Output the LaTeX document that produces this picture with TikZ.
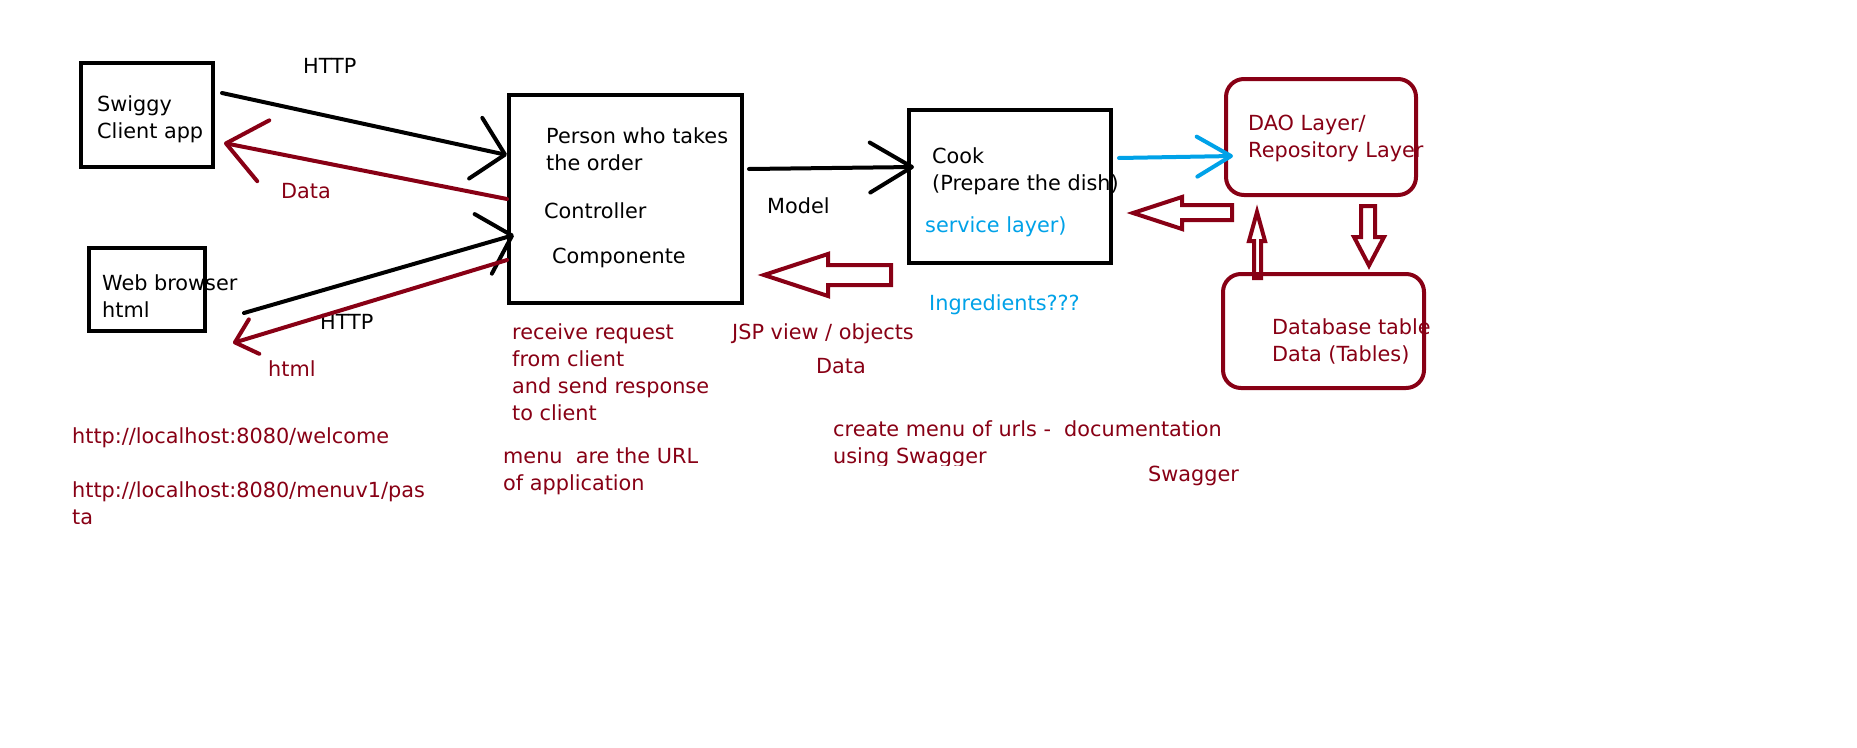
\documentclass[tikz,border=0pt]{standalone}
\usepackage{fontspec}
\setmainfont{DejaVu Sans}
\usepackage{tikz}
\usetikzlibrary{arrows.meta}

\definecolor{paintred}{RGB}{136,0,21}
\definecolor{paintblue}{RGB}{0,162,232}

\begin{document}
\begin{tikzpicture}[x=1pt, y=-1pt, >={Straight Barb[length=30pt, width=62pt, round]},
    box/.style={draw, line width=4pt, inner sep=0pt},
    rbox/.style={box, draw=paintred, rounded corners=18pt},
    txt/.style={anchor=north west, inner sep=0pt, align=left, font=\fontsize{20.8}{27}\selectfont},
    redtxt/.style={txt, text=paintred},
    bluetxt/.style={txt, text=paintblue},
    link/.style={line width=4pt, line cap=round},
    fat/.style={draw=paintred, line width=4pt, line join=miter}]
    \fill[white] (0,0) rectangle (1857,747);
    \useasboundingbox (0,0) rectangle (1857,747);

    \node[box, minimum width=132pt, minimum height=104pt] (swiggy) at (147,115) {};
    \node[box, minimum width=116pt, minimum height=83pt] (web) at (147,289.5) {};
    \node[box, minimum width=233pt, minimum height=208pt] (ctrl) at (625.5,199) {};
    \node[box, minimum width=202pt, minimum height=153pt] (cook) at (1010,186.5) {};
    \node[rbox, minimum width=190pt, minimum height=116pt] (dao) at (1321,137) {};
    \node[rbox, minimum width=201pt, minimum height=114pt] (db) at (1323.5,331) {};

    \node[txt] (swiggytxt) at (97,95.5) {Swiggy\\Client app};
    \node[txt] (webtxt) at (102,274.5) {Web browser\\html};
    \node[txt] (persontxt) at (546,127.5) {Person who takes\\the order};
    \node[txt] (ctrltxt) at (544,202.5) {Controller};
    \node[txt] (comptxt) at (552,247.5) {Componente};
    \node[txt] (cooktxt) at (932,147.5) {Cook\\(Prepare the dish)};
    \node[bluetxt] (servtxt) at (925,216.5) {service layer)};
    \node[redtxt] (daotxt) at (1248,114.5) {DAO Layer/\\Repository Layer};
    \node[redtxt] (dbtxt) at (1272,318.5) {Database table\\Data (Tables)};

    \node[txt] (httpa) at (303,58.5) {HTTP};
    \node[txt] (httpb) at (320,314.5) {HTTP};
    \node[redtxt] (dataa) at (281,183.5) {Data};
    \node[redtxt] (htmlb) at (268,360.5) {html};
    \node[txt] (model) at (767,197.5) {Model};
    \node[bluetxt] (ingr) at (929,294.5) {Ingredients???};
    \node[redtxt] (jsp) at (732,323.5) {JSP view / objects};
    \node[redtxt] (datab) at (816,358.5) {Data};
    \node[redtxt] (recv) at (512,323.5) {receive request\\from client\\and send response\\to client};
    \node[redtxt] (menu) at (503,447.5) {menu\ \ are the URL\\of application};
    \node[redtxt] (urla) at (72,427.5) {http://localhost:8080/welcome};
    \node[redtxt] (urlb) at (72,481.5) {http://localhost:8080/menuv1/pas\\ta};
    \begin{scope}
        \clip (820,400) rectangle (1240,465);
        \node[redtxt] (create) at (833,420.5) {create menu of urls -\ \ documentation\\using Swagger};
    \end{scope}
    \node[redtxt] (swagger) at (1148,465.5) {Swagger};

    \draw[link, ->] ([shift={(7,-22)}]swiggy.east) -- ([shift={(0,-44)}]ctrl.west);
    \draw[link, draw=paintred, -{Straight Barb[length=38pt, width=62pt, round]}] (ctrl.west) -- ([shift={(9,28)}]swiggy.east);
    \draw[link, ->] ([shift={(37,23.5)}]web.east) -- ([shift={(7,36)}]ctrl.west);
    \draw[link, draw=paintred, -{Straight Barb[length=20pt, width=36pt, round]}] ([shift={(0,61)}]ctrl.west) -- ([shift={(26,53.5)}]web.east);
    \draw[link, -{Straight Barb[length=42pt, width=50pt, round]}] ([shift={(5,-30)}]ctrl.east) -- ([shift={(7,-19.5)}]cook.west);
    \draw[link, draw=paintblue, -{Straight Barb[length=34pt, width=40pt, round]}] ([shift={(6,-28.5)}]cook.east) -- ([shift={(9,19)}]dao.west);

    \draw[fat] ([shift={(-16,78.5)}]cook.west) -- ++(-63,0) -- ++(0,-11) -- ++(-64,21) -- ++(64,21) -- ++(0,-11) -- ++(63,0) -- cycle;
    \draw[fat] ([shift={(8,68)}]dao.west) -- ++(-50,0) -- ++(0,-8) -- ++(-49,16) -- ++(49,16) -- ++(0,-9) -- ++(50,0) -- cycle;
    \draw[fat] ([shift={(-69.5,6)}]db.north) -- ++(0,-37) -- ++(-5,0) -- ++(8,-29) -- ++(8,29) -- ++(-4,0) -- ++(0,37) -- cycle;
    \draw[fat] ([shift={(40,9)}]dao.south) -- ++(14,0) -- ++(0,31) -- ++(9,0) -- ++(-15,28.5) -- ++(-15,-28.5) -- ++(7,0) -- cycle;

    \end{tikzpicture}
\end{document}
